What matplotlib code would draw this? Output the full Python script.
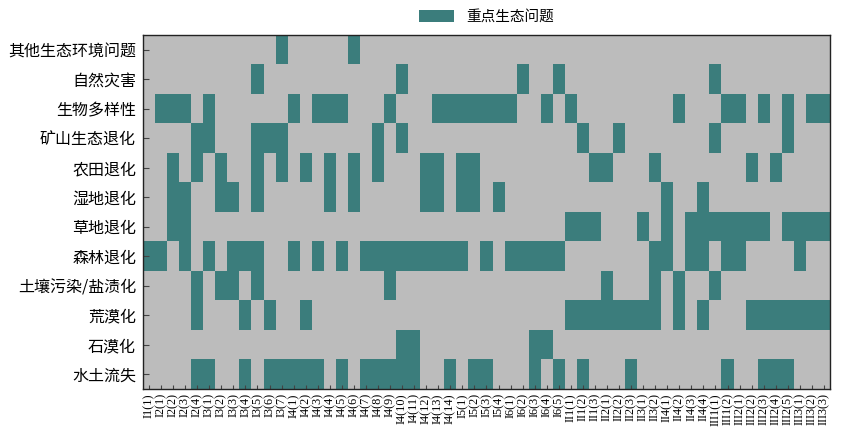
import numpy as np
import matplotlib.pyplot as plt
from matplotlib.colors import ListedColormap
from matplotlib.patches import Patch

plt.rcParams['font.family'] = ['Noto Sans CJK SC', 'DejaVu Sans']

# region codes (columns)
regions = ['I1(1)',
           'I2(1)', 'I2(2)', 'I2(3)', 'I2(4)',
           'I3(1)', 'I3(2)', 'I3(3)', 'I3(4)', 'I3(5)', 'I3(6)', 'I3(7)',
           'I4(1)', 'I4(2)', 'I4(3)', 'I4(4)', 'I4(5)', 'I4(6)', 'I4(7)',
           'I4(8)', 'I4(9)', 'I4(10)', 'I4(11)', 'I4(12)', 'I4(13)', 'I4(14)',
           'I5(1)', 'I5(2)', 'I5(3)', 'I5(4)',
           'I6(1)', 'I6(2)', 'I6(3)', 'I6(4)', 'I6(5)',
           'II1(1)', 'II1(2)', 'II1(3)',
           'II2(1)', 'II2(2)', 'II2(3)',
           'II3(1)', 'II3(2)',
           'II4(1)', 'II4(2)', 'II4(3)', 'II4(4)',
           'III1(1)', 'III1(2)',
           'III2(1)', 'III2(2)', 'III2(3)', 'III2(4)', 'III2(5)',
           'III3(1)', 'III3(2)', 'III3(3)']

# problems (rows, top to bottom)
problems = ['其他生态环境问题', '自然灾害', '生物多样性', '矿山生态退化', '农田退化',
            '湿地退化', '草地退化', '森林退化', '土壤污染/盐渍化', '荒漠化',
            '石漠化', '水土流失']

# column indices flagged as key problem, per row
other = [11, 17]
disaster = [9, 21, 31, 34, 47]
biodiv = [1, 2, 3, 5, 12, 14, 15, 16, 20, 24, 25, 26, 27, 28, 29, 30,
          33, 35, 44, 48, 49, 51, 53, 55, 56]
mine = [4, 5, 9, 10, 11, 19, 21, 36, 39, 47, 53]
farmland = [2, 4, 6, 9, 11, 13, 15, 17, 19, 23, 24, 26, 27, 37, 38, 42, 50, 52]
wetland = [2, 3, 6, 7, 9, 15, 17, 23, 24, 26, 27, 29, 43, 46]
grassland = [2, 3, 35, 36, 37, 41, 43, 45, 46, 47, 48, 49, 50, 51,
             53, 54, 55, 56]
forest = [0, 1, 3, 5, 7, 8, 9, 12, 14, 16, 18, 19, 20, 21, 22, 23, 24, 25, 26,
          28, 30, 31, 32, 33, 34, 42, 43, 45, 46, 48, 49, 54]
soil = [4, 6, 7, 9, 20, 38, 42, 44, 47]
desert = [4, 8, 10, 13, 35, 36, 37, 38, 39, 40, 41, 42, 44, 46,
          50, 51, 52, 53, 54, 55, 56]
rocky = [21, 22, 32, 33]
erosion = [4, 5, 8, 10, 11, 12, 13, 14, 16, 18, 19, 20, 21, 22, 25, 27, 28,
           32, 34, 36, 40, 48, 51, 52, 53]

rows = [other, disaster, biodiv, mine, farmland, wetland, grassland,
        forest, soil, desert, rocky, erosion]

mat = np.zeros((len(problems), len(regions)))
for i, cols in enumerate(rows):
    mat[i, cols] = 1

gray = '#bcbcbc'
teal = '#3b7d7c'

fig = plt.figure(figsize=(8.65, 4.4), dpi=100)
ax = fig.add_axes([0.1653, 0.116, 0.7942, 0.8045])

ax.pcolormesh(np.arange(len(regions) + 1), np.arange(len(problems) + 1), mat,
              cmap=ListedColormap([gray, teal]), vmin=0, vmax=1)
ax.set_xlim(0, len(regions))
ax.set_ylim(len(problems), 0)

ax.set_yticks(np.arange(len(problems)) + 0.5)
ax.set_yticklabels(problems, fontsize=11.5)
ax.set_xticks(np.arange(len(regions)) + 0.5)
ax.set_xticklabels(regions, rotation=90, fontsize=8.8, family='Liberation Serif')
ax.tick_params(axis='both', direction='in', color='#444444', length=3, width=0.8)
ax.tick_params(axis='y', length=4, pad=5)
ax.tick_params(axis='x', pad=3)
for s in ax.spines.values():
    s.set_color('#222222')
    s.set_linewidth(1.0)

ax.legend(handles=[Patch(facecolor=teal, label='重点生态问题')],
          loc='center', bbox_to_anchor=(0.5, 1.052), frameon=False,
          fontsize=10.5, handlelength=2.4, handleheight=0.9)

fig.savefig('out.png', dpi=100)
